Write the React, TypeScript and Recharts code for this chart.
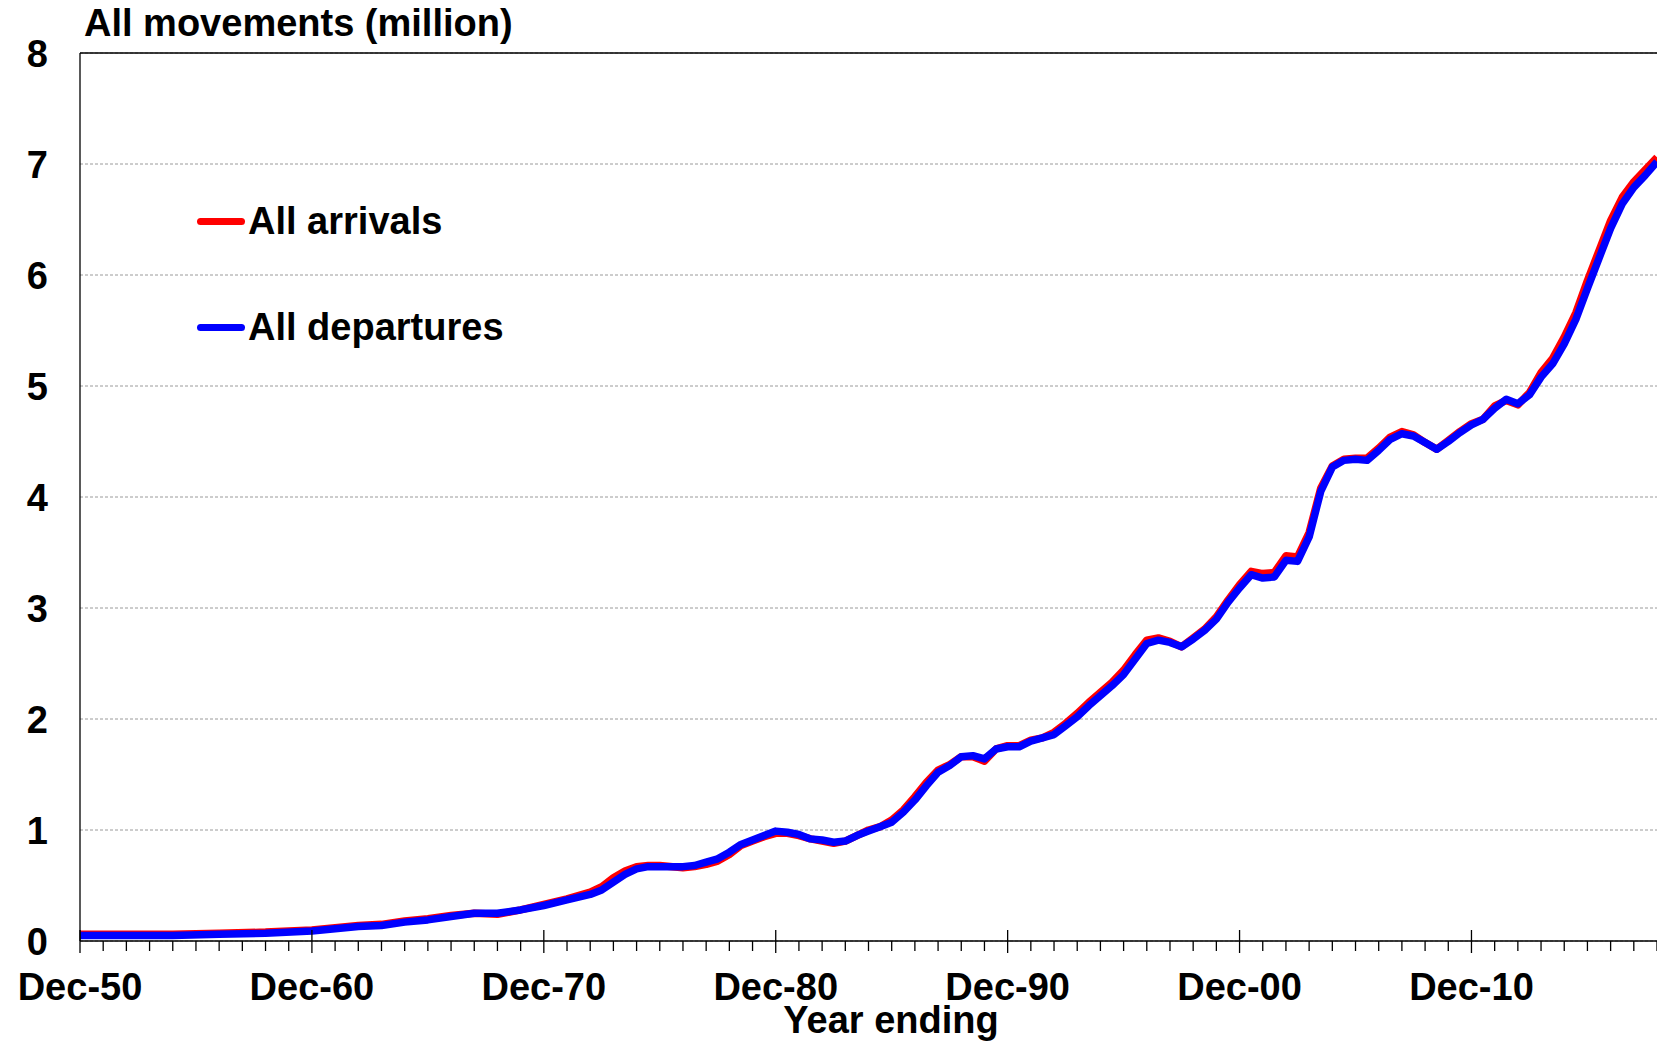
import { LineChart, Line, XAxis, YAxis, CartesianGrid, ReferenceLine } from 'recharts';

const YEARS = [
  1950, 1952, 1954, 1956, 1958, 1960, 1961, 1962, 1963, 1964, 1965, 1966, 1967, 1968, 1969, 1970,
  1971, 1972, 1972.5, 1973, 1973.5, 1974, 1974.5, 1975, 1976, 1976.5, 1977, 1977.5, 1978, 1978.5,
  1979, 1979.5, 1980, 1980.5, 1981, 1981.5, 1982, 1982.5, 1983, 1983.5, 1984, 1984.5, 1985, 1985.5,
  1986, 1986.5, 1987, 1987.5, 1988, 1988.5, 1989, 1989.5, 1990, 1990.5, 1991, 1991.5, 1992, 1992.5,
  1993, 1993.5, 1994, 1994.5, 1995, 1995.5, 1996, 1996.5, 1997, 1997.5, 1998, 1998.5, 1999, 1999.5,
  2000, 2000.5, 2001, 2001.5, 2002, 2002.5, 2003, 2003.5, 2004, 2004.5, 2005, 2005.5, 2006, 2006.5,
  2007, 2007.5, 2008, 2008.5, 2009, 2009.5, 2010, 2010.5, 2011, 2011.5, 2012, 2012.5, 2013, 2013.5,
  2014, 2014.5, 2015, 2015.5, 2016, 2016.5, 2017, 2017.5, 2018,
];

// million, year ending each month shown
const ARRIVALS = [
  0.06, 0.06, 0.06, 0.07, 0.08, 0.1, 0.12, 0.14, 0.15, 0.18, 0.2, 0.23, 0.25, 0.24, 0.28, 0.33,
  0.38, 0.44, 0.49, 0.57, 0.63, 0.67, 0.68, 0.68, 0.66, 0.67, 0.69, 0.72, 0.78, 0.86,
  0.9, 0.94, 0.97, 0.97, 0.95, 0.92, 0.9, 0.88, 0.9, 0.95, 1.0, 1.03, 1.09, 1.18,
  1.3, 1.43, 1.54, 1.59, 1.66, 1.66, 1.62, 1.73, 1.76, 1.76, 1.81, 1.83, 1.88, 1.96,
  2.05, 2.15, 2.24, 2.33, 2.44, 2.58, 2.71, 2.73, 2.7, 2.65, 2.73, 2.81, 2.92, 3.07,
  3.21, 3.33, 3.31, 3.32, 3.47, 3.46, 3.68, 4.08, 4.28, 4.34, 4.35, 4.35, 4.44, 4.54,
  4.59, 4.56, 4.49, 4.43, 4.51, 4.59, 4.66, 4.7, 4.82, 4.87, 4.83, 4.94, 5.12, 5.25,
  5.44, 5.66, 5.95, 6.22, 6.49, 6.7, 6.84, 6.95, 7.06,
];

const DEPARTURES = [
  0.05, 0.05, 0.05, 0.06, 0.07, 0.09, 0.11, 0.13, 0.14, 0.17, 0.19, 0.22, 0.25, 0.25, 0.28, 0.32,
  0.37, 0.42, 0.46, 0.53, 0.6, 0.65, 0.67, 0.67, 0.67, 0.68, 0.71, 0.74, 0.8, 0.87,
  0.91, 0.95, 0.99, 0.98, 0.96, 0.92, 0.91, 0.89, 0.9, 0.95, 0.99, 1.03, 1.07, 1.16,
  1.27, 1.4, 1.52, 1.58, 1.66, 1.67, 1.64, 1.73, 1.75, 1.75, 1.8, 1.83, 1.86, 1.94,
  2.02, 2.12, 2.21, 2.3, 2.4, 2.54, 2.68, 2.71, 2.69, 2.65, 2.72, 2.8, 2.9, 3.05,
  3.18, 3.3, 3.27, 3.28, 3.43, 3.42, 3.64, 4.05, 4.27, 4.33, 4.34, 4.33, 4.42, 4.52,
  4.57, 4.55, 4.49, 4.43, 4.5, 4.58, 4.65, 4.7, 4.8, 4.88, 4.84, 4.92, 5.08, 5.2,
  5.38, 5.6, 5.88, 6.15, 6.42, 6.64, 6.79, 6.9, 7.02,
];

const MAJOR_YEARS = [1950, 1960, 1970, 1980, 1990, 2000, 2010];
const MAJOR_LABELS = ['Dec-50', 'Dec-60', 'Dec-70', 'Dec-80', 'Dec-90', 'Dec-00', 'Dec-10'];
const Y_TICKS = [0, 1, 2, 3, 4, 5, 6, 7, 8];

const FIRST_YEAR = 1950;
const LAST_YEAR = 2018;
const X_TICKS = Array.from({ length: LAST_YEAR - FIRST_YEAR + 1 }, (_, i) => FIRST_YEAR + i);

const FONT = '"Liberation Sans", Arial, sans-serif';
const FONT_SIZE = 38;

const data = YEARS.map((year, i) => ({
  year,
  arrivals: ARRIVALS[i],
  departures: DEPARTURES[i],
}));

function XTick({ x, y, payload }: any) {
  const idx = MAJOR_YEARS.indexOf(payload.value);
  const major = idx >= 0;
  return (
    <g>
      <line x1={x} x2={x} y1={major ? y - 11 : y} y2={major ? y + 12 : y + 10} stroke="#000" strokeWidth={1.3} />
      {major && (
        <text x={x} y={y + 59} textAnchor="middle" fontFamily={FONT} fontWeight="bold" fontSize={FONT_SIZE} fill="#000">
          {MAJOR_LABELS[idx]}
        </text>
      )}
    </g>
  );
}

function YTick({ y, payload }: any) {
  return (
    <text x={48} y={y + 13.5} textAnchor="end" fontFamily={FONT} fontWeight="bold" fontSize={FONT_SIZE} fill="#000">
      {payload.value}
    </text>
  );
}

const legendItems = [
  { label: 'All arrivals', color: '#ff0000', top: 221 },
  { label: 'All departures', color: '#0000ff', top: 327 },
];

export default function App() {
  return (
    <div style={{ position: 'absolute', left: 0, top: 0, width: 1657, height: 1041, background: '#fff' }}>
      <LineChart width={1657} height={1041} data={data} margin={{ top: 53, right: 0, bottom: 0, left: 0 }}>
        <CartesianGrid vertical={false} stroke="#9a9a9a" strokeDasharray="3 2" strokeWidth={1} />
        <XAxis
          dataKey="year"
          type="number"
          domain={[FIRST_YEAR, LAST_YEAR]}
          ticks={X_TICKS}
          interval={0}
          height={100}
          tickSize={0}
          tickMargin={0}
          tickLine={false}
          axisLine={{ stroke: '#000', strokeWidth: 1.3 }}
          tick={<XTick />}
        />
        <YAxis
          type="number"
          domain={[0, 8]}
          ticks={Y_TICKS}
          interval={0}
          width={80}
          tickLine={false}
          axisLine={{ stroke: '#000', strokeWidth: 1.3 }}
          tick={<YTick />}
        />
        <ReferenceLine y={8} stroke="#000" strokeWidth={1.3} />
        <Line
          dataKey="arrivals"
          stroke="#ff0000"
          strokeWidth={7.5}
          dot={false}
          type="linear"
          isAnimationActive={false}
          strokeLinejoin="round"
        />
        <Line
          dataKey="departures"
          stroke="#0000ff"
          strokeWidth={7.5}
          dot={false}
          type="linear"
          isAnimationActive={false}
          strokeLinejoin="round"
        />
      </LineChart>

      <div
        style={{
          position: 'absolute',
          left: 84,
          top: 23 - FONT_SIZE / 2,
          fontFamily: FONT,
          fontWeight: 'bold',
          fontSize: FONT_SIZE,
          lineHeight: `${FONT_SIZE}px`,
          whiteSpace: 'nowrap',
        }}
      >
        All movements (million)
      </div>

      {legendItems.map((item) => (
        <div
          key={item.label}
          style={{
            position: 'absolute',
            left: 197,
            top: item.top - FONT_SIZE / 2,
            display: 'flex',
            alignItems: 'center',
            height: FONT_SIZE,
            fontFamily: FONT,
            fontWeight: 'bold',
            fontSize: FONT_SIZE,
            lineHeight: `${FONT_SIZE}px`,
            whiteSpace: 'nowrap',
          }}
        >
          <span style={{ display: 'inline-block', width: 48, height: 7, borderRadius: 3.5, background: item.color, marginRight: 3 }} />
          {item.label}
        </div>
      ))}

      <div
        style={{
          position: 'absolute',
          left: 891,
          top: 1020 - FONT_SIZE / 2,
          transform: 'translateX(-50%)',
          fontFamily: FONT,
          fontWeight: 'bold',
          fontSize: FONT_SIZE,
          lineHeight: `${FONT_SIZE}px`,
          whiteSpace: 'nowrap',
        }}
      >
        Year ending
      </div>
    </div>
  );
}
